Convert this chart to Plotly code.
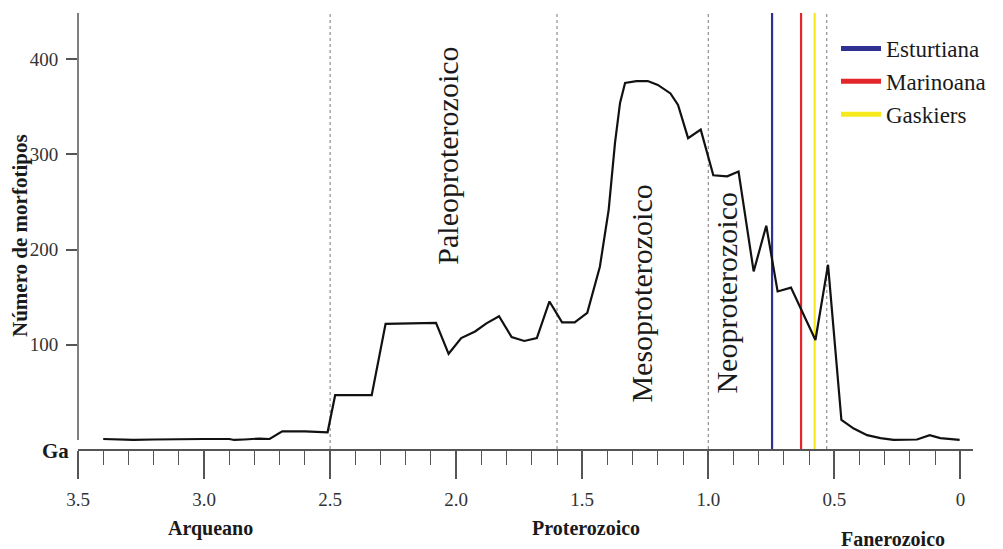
import plotly.graph_objects as go

# ---------------- data ----------------
ages = [3.40, 3.33, 3.28, 3.20, 3.10, 3.00, 2.90, 2.88, 2.84, 2.78, 2.74, 2.69,
        2.60, 2.54, 2.51, 2.48, 2.335, 2.28, 2.08, 2.03, 1.98, 1.925, 1.88, 1.83,
        1.78, 1.73, 1.68, 1.63, 1.58, 1.53, 1.48, 1.43, 1.395, 1.37, 1.35, 1.33,
        1.285, 1.24, 1.20, 1.15, 1.12, 1.08, 1.03, 0.98, 0.925, 0.88, 0.82, 0.77,
        0.725, 0.672, 0.575, 0.525, 0.472, 0.423, 0.37, 0.317, 0.265, 0.172,
        0.122, 0.08, 0.003]
morfotipos = [1, 0, 0, 0.5, 1, 1, 1, 0, 0.5, 1.5, 1, 9,
              9, 8, 8, 47, 47, 122, 123, 90.5, 107, 114, 122.5, 130,
              108, 104, 107, 145.5, 123.5, 123.5, 133.5, 182, 242, 312, 354, 375,
              377, 377, 373, 364, 352, 317, 326, 278, 277, 282, 177, 225,
              156, 160, 105, 184, 21, 12, 5, 2, 0, 0.5,
              5, 2, 0]

era_bounds = [2.5, 1.6, 1.0, 0.53]
glaciations = ["Esturtiana", "Marinoana", "Gaskiers"]
glaciation_ages = [0.747, 0.632, 0.578]
glaciation_colors = ["#2e3192", "#e3262b", "#f6ea1e"]

xtick_vals = [3.5, 3.0, 2.5, 2.0, 1.5, 1.0, 0.5, 0.0]
xtick_text = ["3.5", "3.0", "2.5", "2.0", "1.5", "1.0", "0.5", "0"]
ytick_vals = [100, 200, 300, 400]

era_names = ["Paleoproterozoico", "Mesoproterozoico", "Neoproterozoico"]
era_label_x = [2.035, 1.266, 0.929]
era_label_y = [299, 154, 155]

eon_names = ["Arqueano", "Proterozoico", "Fanerozoico"]

# ---------------- layout constants ----------------
OFF = 8                      # page body margin of the browser
W, H = 1003 - OFF, 549 - OFF
ML, MR, MT, MB = 78 - OFF, 30, 13 - OFF, 100
PW, PH = W - ML - MR, H - MT - MB
YMIN, YMAX = -9.5, 448.5
SERIF = '"Liberation Serif", "Times New Roman", Times, serif'


def px_to_paper(px, py):
    return (px - OFF - ML) / PW, 1 - (py - OFF - MT) / PH


fig = go.Figure()

# era boundary dotted lines
for a in era_bounds:
    fig.add_shape(type="line", xref="x", yref="paper", x0=a, x1=a, y0=0, y1=1,
                  line=dict(color="#777777", width=1, dash="dot"), layer="below")

# glaciation lines (data) + legend entries
for name, a, c in zip(glaciations, glaciation_ages, glaciation_colors):
    fig.add_trace(go.Scatter(x=[a, a], y=[YMIN, YMAX], mode="lines",
                             line=dict(color=c, width=2.2), showlegend=False,
                             hoverinfo="skip"))
for name, c in zip(glaciations, glaciation_colors):
    fig.add_trace(go.Scatter(x=[None], y=[None], mode="lines", name=name,
                             line=dict(color=c, width=5)))

# main curve
fig.add_trace(go.Scatter(x=ages, y=morfotipos, mode="lines",
                         line=dict(color="#111111", width=2.2), showlegend=False))

# y axis line from 0 to top
fig.add_shape(type="line", xref="paper", yref="y", x0=0, x1=0, y0=0, y1=YMAX,
              line=dict(color="#555555", width=1.5))

annotations = []
for n, x, y in zip(era_names, era_label_x, era_label_y):
    annotations.append(dict(x=x, y=y, xref="x", yref="y", text=n, textangle=-90,
                            showarrow=False, xanchor="center", yanchor="middle",
                            font=dict(family=SERIF, size=30, color="#1a1a1a")))

eon_px = [(210, 528), (586, 528), (893, 539)]
for n, (px, py) in zip(eon_names, eon_px):
    xp, yp = px_to_paper(px, py)
    annotations.append(dict(x=xp, y=yp, xref="paper", yref="paper", text="<b>%s</b>" % n,
                            showarrow=False, xanchor="center", yanchor="middle",
                            font=dict(family=SERIF, size=20, color="#1a1a1a")))

xp, yp = px_to_paper(55, 451)
annotations.append(dict(x=xp, y=yp, xref="paper", yref="paper", text="<b>Ga</b>",
                        showarrow=False, xanchor="center", yanchor="middle",
                        font=dict(family=SERIF, size=21, color="#1a1a1a")))

xp, yp = px_to_paper(20, 236)
annotations.append(dict(x=xp, y=yp, xref="paper", yref="paper",
                        text="<b>Número de morfotipos</b>", textangle=-90, showarrow=False,
                        xanchor="center", yanchor="middle",
                        font=dict(family=SERIF, size=21, color="#1a1a1a")))

lx, ly = px_to_paper(836, 27)

tick_font = dict(family=SERIF, size=19, color="#333333")

fig.update_layout(
    width=W, height=H,
    margin=dict(l=ML, r=MR, t=MT, b=MB),
    paper_bgcolor="white", plot_bgcolor="white",
    font=dict(family=SERIF, size=19, color="#333333"),
    xaxis=dict(range=[3.5, -0.05], showgrid=False, zeroline=False,
               showline=True, linecolor="#555555", linewidth=1.5,
               ticks="outside", ticklen=28, tickwidth=1.5, tickcolor="#555555",
               tickvals=xtick_vals, ticktext=xtick_text,
               tickfont=tick_font, ticklabelstandoff=4,
               minor=dict(ticks="outside", ticklen=14, tickwidth=1.2,
                          tickcolor="#555555", dtick=0.1, tick0=0, showgrid=False)),
    yaxis=dict(range=[YMIN, YMAX], showgrid=False, zeroline=False, showline=False,
               ticks="outside", ticklen=11, tickwidth=1.5, tickcolor="#555555",
               tickvals=ytick_vals, tickfont=tick_font, ticklabelstandoff=4),
    legend=dict(x=lx, y=ly, xanchor="left", yanchor="top", bgcolor="rgba(0,0,0,0)",
                font=dict(family=SERIF, size=23, color="#1a1a1a"),
                tracegroupgap=0, itemwidth=40),
    annotations=annotations,
    showlegend=True,
)

fig.write_html("out.html")
